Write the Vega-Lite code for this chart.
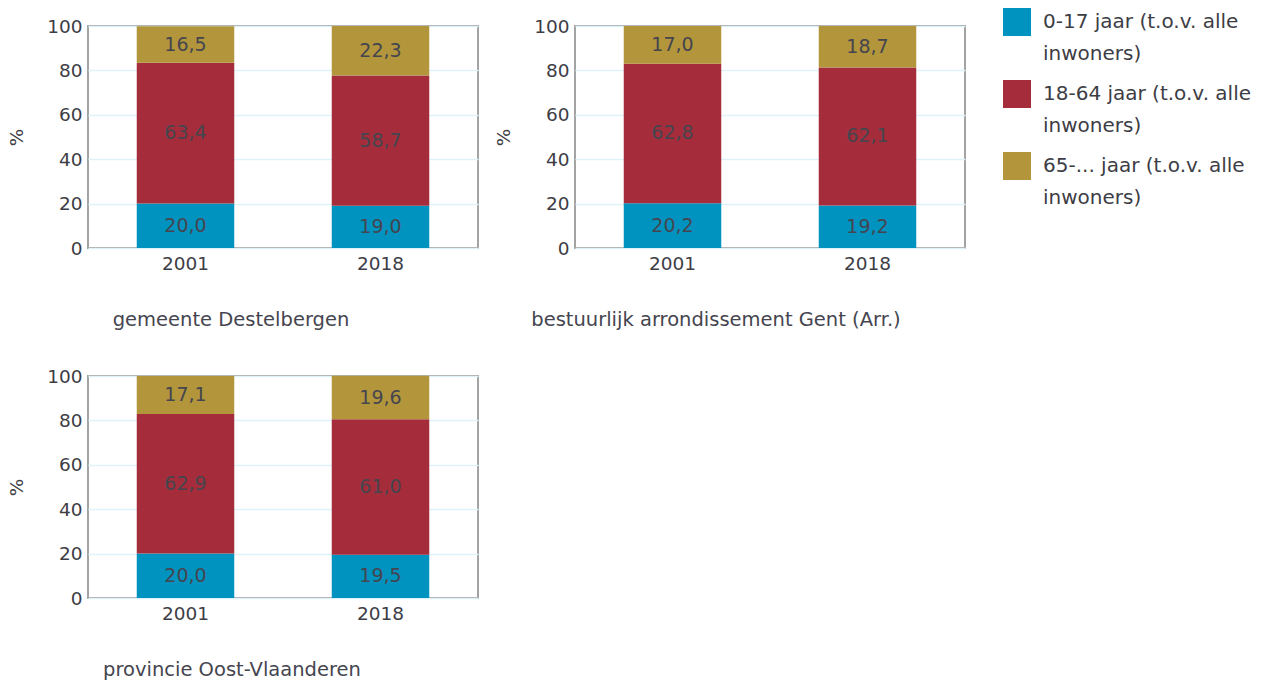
{
  "$schema": "https://vega.github.io/schema/vega-lite/v6.json",
  "padding": {"left": 6, "top": 16, "right": 41, "bottom": 5},
  "background": "white",
  "config": {
    "locale": {"number": {"decimal": ",", "thousands": ".", "grouping": [3], "currency": ["€ ", ""]}},
    "font": "DejaVu Sans",
    "view": {"stroke": "#a3a3a3", "strokeWidth": 2},
    "axis": {"domain": false, "ticks": false, "labelFontSize": 18.5, "labelColor": "#3d3d45", "titleFontSize": 18.5, "titleFontWeight": "normal", "titleColor": "#3d3d45", "gridColor": "#dff2fa", "gridWidth": 1.5},
    "axisX": {"grid": false, "labelPadding": 6, "labelAngle": 0},
    "axisY": {"labelPadding": 6, "titlePadding": 20},
    "concat": {"spacing": {"row": 36, "column": 14}},
    "title": {"fontSize": 19.5, "fontWeight": "normal", "color": "#45454f"},
    "legend": {"orient": "right", "offset": 55, "padding": -18, "symbolType": "square", "symbolSize": 784, "symbolStrokeWidth": 0, "labelFontSize": 20, "labelColor": "#3d3d45", "labelLimit": 400, "rowPadding": 16, "labelOffset": 12}
  },
  "data": {"values": [
    {"gebied": "gemeente Destelbergen", "jaar": "2001", "groep": "0-17 jaar (t.o.v. alle inwoners)", "waarde": 20.0},
    {"gebied": "gemeente Destelbergen", "jaar": "2001", "groep": "18-64 jaar (t.o.v. alle inwoners)", "waarde": 63.4},
    {"gebied": "gemeente Destelbergen", "jaar": "2001", "groep": "65-... jaar (t.o.v. alle inwoners)", "waarde": 16.5},
    {"gebied": "gemeente Destelbergen", "jaar": "2018", "groep": "0-17 jaar (t.o.v. alle inwoners)", "waarde": 19.0},
    {"gebied": "gemeente Destelbergen", "jaar": "2018", "groep": "18-64 jaar (t.o.v. alle inwoners)", "waarde": 58.7},
    {"gebied": "gemeente Destelbergen", "jaar": "2018", "groep": "65-... jaar (t.o.v. alle inwoners)", "waarde": 22.3},
    {"gebied": "bestuurlijk arrondissement Gent (Arr.)", "jaar": "2001", "groep": "0-17 jaar (t.o.v. alle inwoners)", "waarde": 20.2},
    {"gebied": "bestuurlijk arrondissement Gent (Arr.)", "jaar": "2001", "groep": "18-64 jaar (t.o.v. alle inwoners)", "waarde": 62.8},
    {"gebied": "bestuurlijk arrondissement Gent (Arr.)", "jaar": "2001", "groep": "65-... jaar (t.o.v. alle inwoners)", "waarde": 17.0},
    {"gebied": "bestuurlijk arrondissement Gent (Arr.)", "jaar": "2018", "groep": "0-17 jaar (t.o.v. alle inwoners)", "waarde": 19.2},
    {"gebied": "bestuurlijk arrondissement Gent (Arr.)", "jaar": "2018", "groep": "18-64 jaar (t.o.v. alle inwoners)", "waarde": 62.1},
    {"gebied": "bestuurlijk arrondissement Gent (Arr.)", "jaar": "2018", "groep": "65-... jaar (t.o.v. alle inwoners)", "waarde": 18.7},
    {"gebied": "provincie Oost-Vlaanderen", "jaar": "2001", "groep": "0-17 jaar (t.o.v. alle inwoners)", "waarde": 20.0},
    {"gebied": "provincie Oost-Vlaanderen", "jaar": "2001", "groep": "18-64 jaar (t.o.v. alle inwoners)", "waarde": 62.9},
    {"gebied": "provincie Oost-Vlaanderen", "jaar": "2001", "groep": "65-... jaar (t.o.v. alle inwoners)", "waarde": 17.1},
    {"gebied": "provincie Oost-Vlaanderen", "jaar": "2018", "groep": "0-17 jaar (t.o.v. alle inwoners)", "waarde": 19.5},
    {"gebied": "provincie Oost-Vlaanderen", "jaar": "2018", "groep": "18-64 jaar (t.o.v. alle inwoners)", "waarde": 61.0},
    {"gebied": "provincie Oost-Vlaanderen", "jaar": "2018", "groep": "65-... jaar (t.o.v. alle inwoners)", "waarde": 19.6}
  ]},
  "columns": 2,
  "concat": [
    {
      "width": 390, "height": 222,
      "title": {"text": "gemeente Destelbergen", "orient": "bottom", "anchor": "middle", "dx": -52, "offset": 38},
      "transform": [{"filter": "datum.gebied == 'gemeente Destelbergen'"}],
      "encoding": {
        "x": {"field": "jaar", "type": "nominal", "title": null, "scale": {"paddingInner": 0.5, "paddingOuter": 0.25}},
        "y": {"field": "waarde", "type": "quantitative", "stack": "zero", "scale": {"domain": [0, 100]}, "axis": {"title": "%", "values": [0, 20, 40, 60, 80, 100]}},
        "order": {"field": "groep", "sort": "ascending"}
      },
      "layer": [
        {"mark": {"type": "bar"}, "encoding": {"color": {"field": "groep", "type": "nominal", "title": null, "scale": {"range": ["#0093c0", "#a52d3b", "#b3963c"]}, "legend": {"labelExpr": "[replace(datum.label, ' inwoners)', ''), 'inwoners)']", "encode": {"labels": {"update": {"lineHeight": {"value": 32}}}}}}}},
        {"mark": {"type": "text", "fontSize": 19, "color": "#45454f"}, "encoding": {"y": {"field": "waarde", "type": "quantitative", "stack": "zero", "bandPosition": 0.5}, "detail": {"field": "groep"}, "text": {"field": "waarde", "type": "quantitative", "format": ".1f"}}}
      ]
    },
    {
      "width": 390, "height": 222,
      "title": {"text": "bestuurlijk arrondissement Gent (Arr.)", "orient": "bottom", "anchor": "middle", "dx": -54, "offset": 38},
      "transform": [{"filter": "datum.gebied == 'bestuurlijk arrondissement Gent (Arr.)'"}],
      "encoding": {
        "x": {"field": "jaar", "type": "nominal", "title": null, "scale": {"paddingInner": 0.5, "paddingOuter": 0.25}},
        "y": {"field": "waarde", "type": "quantitative", "stack": "zero", "scale": {"domain": [0, 100]}, "axis": {"title": "%", "values": [0, 20, 40, 60, 80, 100]}},
        "order": {"field": "groep", "sort": "ascending"}
      },
      "layer": [
        {"mark": {"type": "bar"}, "encoding": {"color": {"field": "groep", "type": "nominal", "title": null, "scale": {"range": ["#0093c0", "#a52d3b", "#b3963c"]}}}},
        {"mark": {"type": "text", "fontSize": 19, "color": "#45454f"}, "encoding": {"y": {"field": "waarde", "type": "quantitative", "stack": "zero", "bandPosition": 0.5}, "detail": {"field": "groep"}, "text": {"field": "waarde", "type": "quantitative", "format": ".1f"}}}
      ]
    },
    {
      "width": 390, "height": 222,
      "title": {"text": "provincie Oost-Vlaanderen", "orient": "bottom", "anchor": "middle", "dx": -51, "offset": 38},
      "transform": [{"filter": "datum.gebied == 'provincie Oost-Vlaanderen'"}],
      "encoding": {
        "x": {"field": "jaar", "type": "nominal", "title": null, "scale": {"paddingInner": 0.5, "paddingOuter": 0.25}},
        "y": {"field": "waarde", "type": "quantitative", "stack": "zero", "scale": {"domain": [0, 100]}, "axis": {"title": "%", "values": [0, 20, 40, 60, 80, 100]}},
        "order": {"field": "groep", "sort": "ascending"}
      },
      "layer": [
        {"mark": {"type": "bar"}, "encoding": {"color": {"field": "groep", "type": "nominal", "title": null, "scale": {"range": ["#0093c0", "#a52d3b", "#b3963c"]}}}},
        {"mark": {"type": "text", "fontSize": 19, "color": "#45454f"}, "encoding": {"y": {"field": "waarde", "type": "quantitative", "stack": "zero", "bandPosition": 0.5}, "detail": {"field": "groep"}, "text": {"field": "waarde", "type": "quantitative", "format": ".1f"}}}
      ]
    }
  ]
}
